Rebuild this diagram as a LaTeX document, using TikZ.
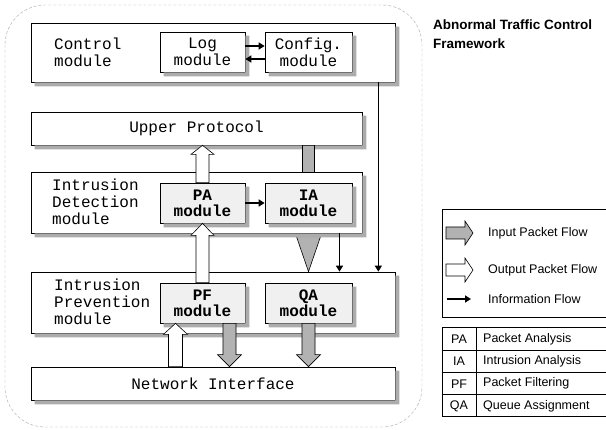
\documentclass[tikz,border=0pt]{standalone}
\usepackage{fontspec}
\setmainfont{Liberation Sans}
\setmonofont{Liberation Mono}
\usetikzlibrary{arrows.meta,calc}

\tikzset{
  box/.style={draw, line width=0.7pt, fill=white, inner sep=0pt},
  bigbox/.style={box, font=\ttfamily\fontsize{16}{17}\selectfont},
  plainmod/.style={box, minimum width=85pt, minimum height=40pt, align=center,
    font=\ttfamily\fontsize{16}{17}\selectfont},
  submod/.style={plainmod, fill=gray!12,
    font=\ttfamily\bfseries\fontsize{16}{16}\selectfont},
  modlabel/.style={anchor=west, align=left, inner sep=0pt,
    font=\ttfamily\fontsize{16}{17}\selectfont},
  info/.style={line width=1.6pt, -{Triangle[length=6pt,width=7pt]}},
  infill/.style={draw, line width=0.6pt, fill=gray!60},
  outfill/.style={draw, line width=0.6pt, fill=white},
  legendtxt/.style={inner sep=0pt, font=\fontsize{12.5}{14}\selectfont},
}

% L-shaped shadow right of and below a box
\newcommand{\boxshadow}[1]{%
  \fill[gray!65] ([shift={(4pt,-4pt)}]#1.south west) -- ([shift={(4pt,-4pt)}]#1.south east)
    -- ([shift={(4pt,-4pt)}]#1.north east) -- ([yshift=-4pt]#1.north east)
    -- (#1.south east) -- ([xshift=4pt]#1.south west) -- cycle;
}

% fat packet arrow: style, from, to, half shaft, half head, head length
\newcommand{\flowarrow}[6]{%
  \coordinate (fa-neck) at ($(#3)!#6!(#2)$);
  \draw[#1] ($(#2)!#4!90:(#3)$) -- ($(fa-neck)!#4!90:(#3)$)
    -- ($(fa-neck)!#5!90:(#3)$) -- (#3) -- ($(fa-neck)!#5!-90:(#3)$)
    -- ($(fa-neck)!#4!-90:(#3)$) -- ($(#2)!#4!-90:(#3)$) -- cycle;
}

\begin{document}
\begin{tikzpicture}[x=1pt, y=-1pt]
    \useasboundingbox (0,0) rectangle (606,430);

    \draw[gray!70, densely dashed, rounded corners=40pt] (5,5) rectangle (422,427);

    \node[inner sep=0pt, anchor=west, align=left,
        font=\bfseries\fontsize{13.5}{19}\selectfont] (title) at (433,34)
        {Abnormal Traffic Control\\Framework};

    % control part
    \node[bigbox, minimum width=364pt, minimum height=59pt] (ctrl) at (213,52.5) {};
    \boxshadow{ctrl}
    \node[modlabel] (ctrl-txt) at (54,52) {Control\\module};
    \node[plainmod] (log) at (202.5,52) {Log\\module};
    \boxshadow{log}
    \node[plainmod, minimum width=87pt] (config) at (308.5,52) {Config.\\module};
    \boxshadow{config}

    \node[bigbox, minimum width=331pt, minimum height=33pt] (upper) at (196.5,128.5)
        {Upper Protocol};
    \boxshadow{upper}

    \node[bigbox, minimum width=364pt, minimum height=61pt] (ips) at (213,302.5) {};
    \boxshadow{ips}
    \node[modlabel] (ips-txt) at (54,302) {Intrusion\\Prevention\\module};
    \node[submod] (pf) at (202.5,303) {PF\\module};
    \boxshadow{pf}
    \node[submod, minimum width=87pt] (qa) at (308.5,303) {QA\\module};
    \boxshadow{qa}

    % incoming packets go down behind the detection module
    \coordinate (up-in) at (upper.south -| qa.north);
    \coordinate (ips-in) at (ips.north -| qa.north);
    \flowarrow{infill}{up-in}{ips-in}{6pt}{12pt}{35pt}

    \node[bigbox, minimum width=331pt, minimum height=61pt] (ids) at (196.5,202.5) {};
    \boxshadow{ids}
    \node[modlabel] (ids-txt) at (52,202) {Intrusion\\Detection\\module};
    \node[submod] (pa) at (202.5,203) {PA\\module};
    \boxshadow{pa}
    \node[submod, minimum width=87pt] (ia) at (308.5,203) {IA\\module};
    \boxshadow{ia}

    \node[bigbox, minimum width=364pt, minimum height=33pt] (net) at (213,383.5)
        {Network Interface};
    \boxshadow{net}

    % information flow
    \draw[info] ([yshift=6pt]log.east) -- ([yshift=6pt]config.west);
    \draw[info] ([yshift=-7pt]config.west) -- ([yshift=-7pt]log.east);
    \draw[info] (pa.east) -- (ia.west);
    \coordinate (ia-out) at ($(ia.south |- ids.south)+(31,0)$);
    \coordinate (ia-in) at (ia-out |- ips.north);
    \draw[info] (ia-out) -- (ia-in);
    \coordinate (ctrl-out) at ([xshift=-17pt]ctrl.south east);
    \coordinate (ctrl-in) at (ctrl-out |- ips.north);
    \draw[info, line width=1.2pt] (ctrl-out) -- (ctrl-in);

    % packets down to the network interface
    \coordinate (pf-out) at ($(pf.south)+(27,0)$);
    \coordinate (net-in1) at (pf-out |- net.north);
    \flowarrow{infill}{pf-out}{net-in1}{6.5pt}{12pt}{12pt}
    \coordinate (net-in2) at (qa.south |- net.north);
    \flowarrow{infill}{qa.south}{net-in2}{6.5pt}{12pt}{12pt}

    % packets up from the network interface
    \coordinate (pf-in) at ($(pf.south)+(-27,0)$);
    \coordinate (net-out) at (pf-in |- net.north);
    \flowarrow{outfill}{net-out}{pf-in}{7pt}{12pt}{11pt}
    \flowarrow{outfill}{pf.north}{pa.south}{6.5pt}{11.5pt}{12pt}
    \coordinate (up-out) at (pa.north |- upper.south);
    \flowarrow{outfill}{pa.north}{up-out}{6.5pt}{11.5pt}{9pt}

    % legend
    \draw[line width=1pt] (606,210) -| (442,318) -- (606,318);
    \coordinate (lg-in-a) at (446,233);
    \coordinate (lg-in-b) at (473,233);
    \flowarrow{infill}{lg-in-a}{lg-in-b}{6pt}{12pt}{8pt}
    \node[legendtxt, anchor=west] (lg-in) at (488,233) {Input Packet Flow};
    \coordinate (lg-out-a) at (446,270);
    \coordinate (lg-out-b) at (473,270);
    \flowarrow{outfill}{lg-out-a}{lg-out-b}{6pt}{12pt}{8pt}
    \node[legendtxt, anchor=west] (lg-out) at (488,270) {Output Packet Flow};
    \coordinate (lg-info-a) at (447,299);
    \coordinate (lg-info-b) at (471,299);
    \draw[info] (lg-info-a) -- (lg-info-b);
    \node[legendtxt, anchor=west] (lg-info) at (488,299) {Information Flow};

    % abbreviations
    \draw[line width=1pt] (606,328) -| (442,417) -- (606,417);
    \draw[line width=0.5pt] (476,328) -- (476,417);
    \foreach \y in {350,372,394}
        \draw[line width=0.5pt] (442,\y) -- (606,\y);
    \foreach \abbr/\desc [count=\i] in {PA/Packet Analysis, IA/Intrusion Analysis,
            PF/Packet Filtering, QA/Queue Assignment} {
        \node[legendtxt] (abbr-\i) at (459,{328+22.25*\i-11}) {\abbr};
        \node[legendtxt, anchor=west] (desc-\i) at (483,{328+22.25*\i-11}) {\desc};
    }
\end{tikzpicture}
\end{document}
